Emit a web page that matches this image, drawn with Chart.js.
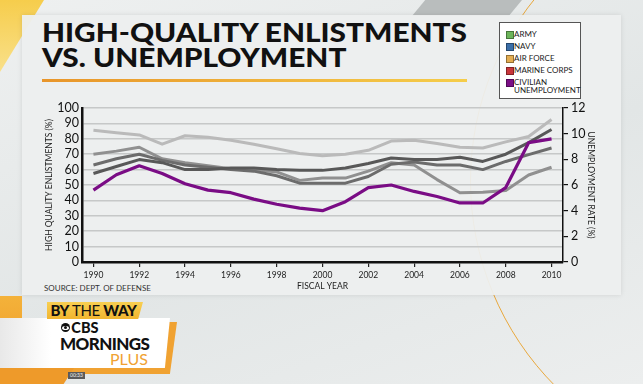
<!DOCTYPE html>
<html>
<head>
<meta charset="utf-8">
<script src="https://cdn.jsdelivr.net/npm/chart.js"></script>
<style>
  html, body { margin: 0; padding: 0; }
  body {
    width: 643px; height: 384px; overflow: hidden; position: relative;
    background: linear-gradient(160deg, #eef0f0 0%, #e2e6e6 55%, #eceeee 100%);
    font-family: Lato, 'DejaVu Sans', sans-serif;
  }
  .abs { position: absolute; }
  #corner { left: 0; top: 0; width: 44px; height: 72px; background: linear-gradient(180deg, #f6cd4c, #f9e08a); clip-path: polygon(0 0, 100% 0, 0 100%); }
  #band { left: 412px; top: 0; width: 110px; height: 16px; background: #b9bdbd; clip-path: polygon(12% 0, 100% 0, 88% 100%, 0 100%); }
  #arc { left: 470px; top: -110px; width: 580px; height: 580px; border-radius: 50%; border: 1.5px solid #e9a83c; }
  #panel { left: 22px; top: 15px; width: 599px; height: 280px; background: rgba(237,239,239,0.94); box-shadow: 0 0 5px rgba(0,0,0,.10); }
  .title { left: 42px; font-weight: 900; font-size: 27px; line-height: 25px; color: #111; white-space: nowrap; transform-origin: 0 50%; }
  #rule { left: 42px; top: 79px; width: 425px; height: 2.5px; background: linear-gradient(90deg, #e8952a, #f5cd4a); }
  #legend { left: 499px; top: 22px; width: 80px; height: 75px; background: #fff; border: 1.5px solid #555; }
  .item { position: absolute; left: 6px; font-size: 8px; line-height: 8px; color: #222; }
  .sw { position: absolute; left: 0; top: 0; width: 6px; height: 6px; border: 0.5px solid rgba(0,0,0,.35); }
  .item span.t { position: absolute; left: 8px; top: -1px; white-space: nowrap; }
  #source { left: 44px; top: 283px; font-size: 8px; color: #333; white-space: nowrap; }
  #chart { left: 0; top: 0; }
  #tagshade { left: 0; top: 296px; width: 22px; height: 88px; background: linear-gradient(180deg, #f4b23a, #ec9424); }
  #tagbase { left: 0; top: 322px; width: 177px; height: 52px; background: #f0a232; clip-path: polygon(0 0, 100% 0, 96% 100%, 0 100%); }
  #foot { left: 0; top: 368px; width: 74px; height: 16px; background: #ee9a2a; clip-path: polygon(0 0, 100% 0, 86% 100%, 0 100%); }
  #byway { left: 47px; top: 302px; width: 96px; height: 17px; background: linear-gradient(180deg, #f8cf52, #f1b52f); clip-path: polygon(0 0, 100% 0, 95% 100%, 0 100%); font-size: 15px; line-height: 17px; color: #111; white-space: nowrap; letter-spacing: -0.4px; }
  #byway b { font-weight: 900; }
  #card { left: 0; top: 318px; width: 170px; height: 50px; background: linear-gradient(90deg, #e8e8e8 0%, #ffffff 30%, #ffffff 100%); clip-path: polygon(0 0, 100% 0, 97% 100%, 0 100%); }
  #cbs { left: 61px; top: 320px; font-size: 14.5px; font-weight: 900; color: #111; line-height: 15px; }
  #eye { left: 61px; top: 323px; width: 9px; height: 9px; border-radius: 50%; background: #111; }
  #eye i { position: absolute; left: 1px; top: 2.5px; width: 7px; height: 4px; border-radius: 50%; background: #fff; }
  #eye i:after { content: ''; position: absolute; left: 2px; top: 0.5px; width: 3px; height: 3px; border-radius: 50%; background: #111; }
  #mornings { left: 60px; top: 335px; font-size: 17px; font-weight: 900; color: #111; line-height: 17px; letter-spacing: -0.6px; }
  #plus { left: 110px; top: 351px; font-size: 16px; color: #f0a232; line-height: 16px; }
  #time { left: 68px; top: 372px; width: 17px; height: 7px; background: #5a5a5a; color: #eee; font-size: 5px; line-height: 7px; text-align: center; }
</style>
</head>
<body>
<div id="corner" class="abs"></div>
<div id="band" class="abs"></div>
<div id="arc" class="abs"></div>
<div id="panel" class="abs"></div>

<div id="t1" class="abs title" style="top:19px">HIGH-QUALITY ENLISTMENTS</div>
<div id="t2" class="abs title" style="top:44px">VS. UNEMPLOYMENT</div>
<div id="rule" class="abs"></div>
<div id="legend" class="abs"></div>
<div id="source" class="abs">SOURCE: DEPT. OF DEFENSE</div>

<div id="tagshade" class="abs"></div>
<div id="tagbase" class="abs"></div>
<div id="foot" class="abs"></div>
<div id="card" class="abs"></div>
<div id="byway" class="abs">&nbsp;<b>BY</b> THE <b>WAY</b></div>
<div id="eye" class="abs"><i></i></div>
<div id="cbs" class="abs">&nbsp;&nbsp;&nbsp;CBS</div>
<div id="mornings" class="abs">MORNINGS</div>
<div id="plus" class="abs">PLUS</div>
<div id="time" class="abs">00:33</div>

<canvas id="chart" class="abs" width="643" height="384"></canvas>

<script>
'use strict';

// Fiscal years on the x axis
const years = [1990, 1991, 1992, 1993, 1994, 1995, 1996, 1997, 1998, 1999, 2000,
               2001, 2002, 2003, 2004, 2005, 2006, 2007, 2008, 2009, 2010];

// High quality enlistments (%)
const army        = [70, 72, 74.5, 67, 64.5, 62.5, 60.5, 60, 58.5, 53, 54.5, 54.5, 59, 64.5, 63, 53.5, 45, 45.3, 46.5, 56.5, 61.5];
const navy        = [63, 67, 70, 66, 63, 61.5, 60, 59, 56, 51.2, 51.2, 51.2, 55.5, 63.5, 65, 63, 63, 60, 65.3, 69.7, 74];
const airForce    = [85.5, 84, 82.5, 76.5, 82, 81, 79, 76.5, 73.5, 70.5, 69, 70, 72.5, 78.5, 79, 77, 74.5, 74, 78, 81.5, 92.5];
const marineCorps = [57.5, 62, 66.5, 64.5, 60, 60, 61, 61, 60, 59.5, 59.5, 61, 64, 67.5, 66.5, 66.5, 68, 65.3, 70, 77.5, 86];

// Civilian unemployment rate (%), right axis
const unemployment = [5.6, 6.8, 7.5, 6.9, 6.1, 5.6, 5.4, 4.9, 4.5, 4.2, 4.0, 4.7, 5.8, 6.0, 5.5, 5.1, 4.6, 4.6, 5.8, 9.3, 9.6];

// Legend entries (swatch colours as printed in the key)
const legendNames  = ['ARMY', 'NAVY', 'AIR FORCE', 'MARINE CORPS', 'CIVILIAN<br>UNEMPLOYMENT'];
const legendColors = ['#6cb45a', '#3a6ea8', '#e3ad52', '#c9363b', '#7b0e86'];

// legend box
const legend = document.getElementById('legend');
legend.innerHTML = legendNames.map((name, i) => `
  <div class="item" style="top:${8 + i * 12}px">
    <div class="sw" style="background:${legendColors[i]}"></div>
    <span class="t">${name}</span>
  </div>`).join('');

// stretch the heading so the first line spans the underline, like the broadcast font
const t1 = document.getElementById('t1');
const stretch = 425 / t1.getBoundingClientRect().width;
document.querySelectorAll('.title').forEach(el => { el.style.transform = `scaleX(${stretch})`; });

const tickFont = { family: 'Lato', size: 12.5 };
const smallFont = { family: 'Lato', size: 8.5 };

new Chart(document.getElementById('chart'), {
  type: 'line',
  data: {
    labels: years,
    datasets: [
      { label: 'Civilian Unemployment', data: unemployment, yAxisID: 'y1', borderColor: '#7a0c85', borderWidth: 3.2 },
      { label: 'Marine Corps', data: marineCorps, yAxisID: 'y', borderColor: '#585858', borderWidth: 3 },
      { label: 'Navy',         data: navy,        yAxisID: 'y', borderColor: '#6c6c6c', borderWidth: 3 },
      { label: 'Army',         data: army,        yAxisID: 'y', borderColor: '#909090', borderWidth: 3 },
      { label: 'Air Force',    data: airForce,    yAxisID: 'y', borderColor: '#bababa', borderWidth: 3 },
    ].map(d => ({ ...d, pointRadius: 0, tension: 0, borderJoinStyle: 'round', fill: false }))
  },
  options: {
    responsive: false,
    devicePixelRatio: 1,
    animation: false,
    events: [],
    layout: { padding: { left: 44, right: 47, top: 108, bottom: 93 } },
    plugins: { legend: { display: false }, tooltip: { enabled: false } },
    scales: {
      x: {
        type: 'category',
        offset: true,
        afterFit: s => { s.height = 29; },
        grid: {
          drawOnChartArea: false, drawTicks: true, tickLength: 5, lineWidth: 1.2,
          tickColor: c => (c.index % 2 === 0 ? '#222' : 'rgba(0,0,0,0)')
        },
        border: { display: true, color: '#111', width: 2.5 },
        ticks: {
          autoSkip: false, maxRotation: 0, padding: 3, color: '#222', font: smallFont,
          callback: (v, i) => (i % 2 === 0 ? years[i] : '')
        },
        title: { display: true, text: 'FISCAL YEAR', color: '#222', font: smallFont, padding: 0 }
      },
      y: {
        position: 'left',
        min: 0, max: 100,
        afterFit: s => { s.width = 38; },
        grid: { color: '#c6c8c8', lineWidth: 1.5, drawTicks: false },
        border: { display: true, color: '#111', width: 2.5 },
        ticks: { stepSize: 10, autoSkip: false, padding: 3, color: '#111', font: tickFont },
        title: { display: true, text: 'HIGH QUALITY ENLISTMENTS (%)', color: '#222', font: smallFont, padding: 0 }
      },
      y1: {
        position: 'right',
        min: 0, max: 12,
        afterFit: s => { s.width = 33; },
        grid: { drawOnChartArea: false, drawTicks: true, tickLength: 5, color: '#111', lineWidth: 1.2 },
        border: { display: true, color: '#111', width: 1.5 },
        ticks: { stepSize: 2, autoSkip: false, padding: 3, color: '#111', font: tickFont },
        title: { display: true, text: 'UNEMPLOYMENT RATE (%)', color: '#222', font: smallFont, padding: 0 }
      }
    }
  }
});
</script>
</body>
</html>
